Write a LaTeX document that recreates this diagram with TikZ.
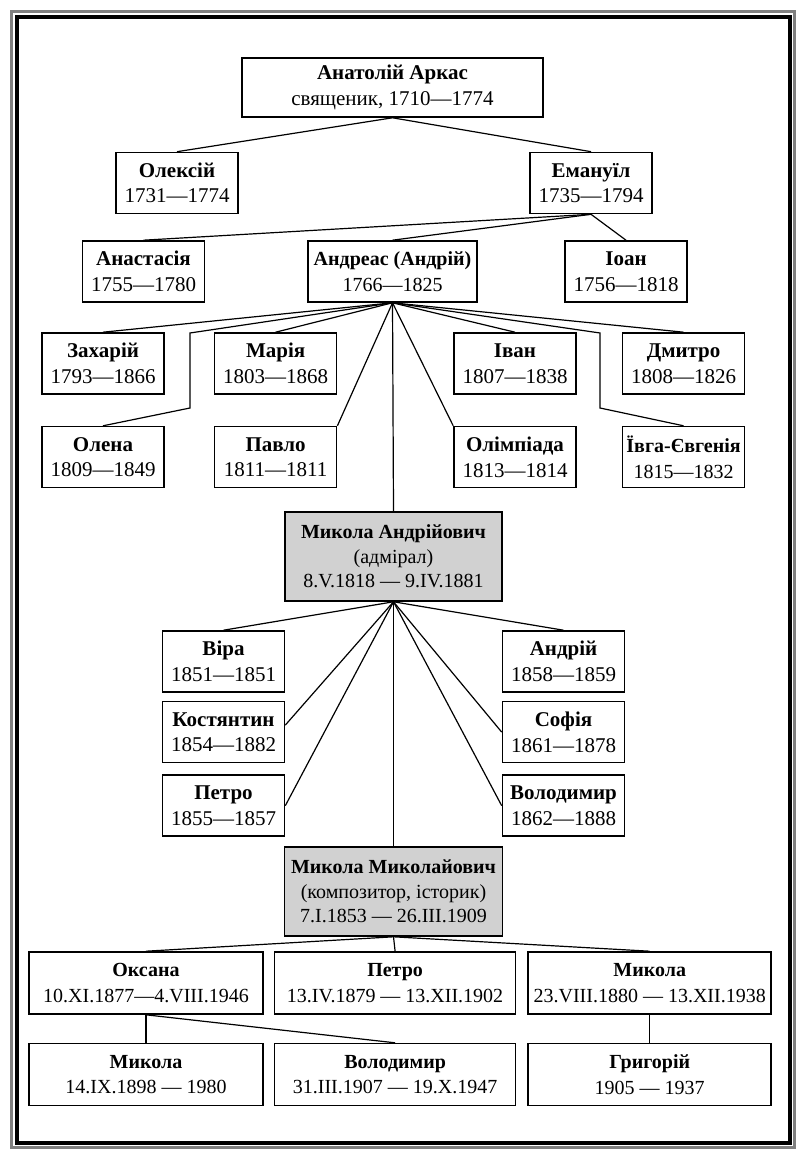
\documentclass[tikz,border=0pt]{standalone}
\usepackage{fontspec}
\setmainfont{Liberation Serif}
\usepackage{tikz}
\usetikzlibrary{positioning}

\begin{document}
\begin{tikzpicture}[
    x=0.5pt, y=-0.5pt,
    node distance=4pt and 5pt,
    person/.style={draw, line width=0.8pt, inner sep=0pt, minimum width=61pt, minimum height=30.5pt, align=center, font=\fontsize{10.5}{12.8}\selectfont},
    key/.style={person, fill=black!18, minimum width=108.5pt, minimum height=44.5pt, font=\fontsize{10}{12.3}\selectfont},
    wide/.style={person, minimum height=31pt, font=\fontsize{10}{12.8}\selectfont},
    link/.style={line width=0.6pt},
]
\useasboundingbox (0,0) rectangle (796,1149);

% frame
\draw[black!50, line width=1.5pt] (11,12) rectangle (794,1147);
\draw[line width=2pt] (17,17) rectangle (790,1143);

% Anatolii and sons
\node[person, minimum width=150.5pt, minimum height=29.5pt] (anatolii) at (392.5,87.5) {\textbf{Анатолій Аркас}\\священик, 1710—1774};
\node[person] (oleksii) at (177,183) {\textbf{Олексій}\\1731—1774};
\node[person] (emanuil) at (591,183) {\textbf{Емануїл}\\1735—1794};

\draw[link] (anatolii.south) -- (oleksii.north);
\draw[link] (anatolii.south) -- (emanuil.north);

% Emanuil's children
\node[person] (anastasiia) at (143.5,271.5) {\textbf{Анастасія}\\1755—1780};
\node[person, minimum width=84.5pt, font=\fontsize{10}{12.8}\selectfont] (andreas) at (392.5,271.5) {\textbf{Андреас (Андрій)}\\1766—1825};
\node[person] (ioan) at (626,271.5) {\textbf{Іоан}\\1756—1818};

\draw[link] (emanuil.south) -- (anastasiia.north);
\draw[link] (emanuil.south) -- (andreas.north);
\draw[link] (emanuil.south) -- (ioan.north);

% Andreas' children
\node[person] (zakharii) at (103,363.5) {\textbf{Захарій}\\1793—1866};
\node[person, right=24.5pt of zakharii] (mariia) {\textbf{Марія}\\1803—1868};
\node[person] (ivan) at (515,363.5) {\textbf{Іван}\\1807—1838};
\node[person, right=22.5pt of ivan] (dmytro) {\textbf{Дмитро}\\1808—1826};

\node[person, below=15.5pt of zakharii] (olena) {\textbf{Олена}\\1809—1849};
\node[person, below=15.5pt of mariia] (pavlo) {\textbf{Павло}\\1811—1811};
\node[person, below=15.5pt of ivan] (olimpiada) {\textbf{Олімпіада}\\1813—1814};
\node[person, below=15.5pt of dmytro, font=\fontsize{10}{12.8}\selectfont] (yevheniia) {\textbf{Ївга-Євгенія}\\1815—1832};

\coordinate (olenaA) at (190,333);
\coordinate (olenaB) at (190,408);
\coordinate (yevhA) at (600,333);
\coordinate (yevhB) at (600,408);

\draw[link] (andreas.south) -- (zakharii.north);
\draw[link] (andreas.south) -- (olenaA) -- (olenaB) -- (olena.north);
\draw[link] (andreas.south) -- (mariia.north);
\draw[link] (andreas.south) -- (pavlo.north east);
\draw[link] (andreas.south) -- (olimpiada.north west);
\draw[link] (andreas.south) -- (ivan.north);
\draw[link] (andreas.south) -- (yevhA) -- (yevhB) -- (yevheniia.north);
\draw[link] (andreas.south) -- (dmytro.north);

% the admiral
\node[key] (mykolaA) at (393.5,556.5) {\textbf{Микола Андрійович}\\(адмірал)\\8.V.1818 — 9.IV.1881};
\draw[link] (andreas.south) -- (mykolaA.north);

\node[person] (vira) at (223.5,661.5) {\textbf{Віра}\\1851—1851};
\node[person, below=of vira] (kostiantyn) {\textbf{Костянтин}\\1854—1882};
\node[person, below=5.5pt of kostiantyn] (petroA) {\textbf{Петро}\\1855—1857};
\node[person] (andrii) at (563.5,661.5) {\textbf{Андрій}\\1858—1859};
\node[person, below=of andrii] (sofiia) {\textbf{Софія}\\1861—1878};
\node[person, below=5.5pt of sofiia] (volodymyrA) {\textbf{Володимир}\\1862—1888};

\draw[link] (mykolaA.south) -- (vira.north);
\draw[link] (mykolaA.south) -- ([yshift=3.5pt]kostiantyn.east);
\draw[link] (mykolaA.south) -- (petroA.east);
\draw[link] (mykolaA.south) -- (andrii.north);
\draw[link] (mykolaA.south) -- (sofiia.west);
\draw[link] (mykolaA.south) -- (volodymyrA.west);

% the composer
\node[key, minimum width=109pt] (mykolaM) at (393.5,891.5) {\textbf{Микола Миколайович}\\(композитор, історик)\\7.I.1853 — 26.III.1909};
\draw[link] (mykolaA.south) -- (mykolaM.north);

\node[wide, minimum width=117pt] (oksana) at (146,983) {\textbf{Оксана}\\10.XI.1877—4.VIII.1946};
\node[wide, minimum width=120.5pt, right=of oksana] (petroM) {\textbf{Петро}\\13.IV.1879 — 13.XII.1902};
\node[wide, minimum width=121.5pt, right=5.5pt of petroM] (mykolaN) {\textbf{Микола}\\23.VIII.1880 — 13.XII.1938};

\draw[link] (mykolaM.south) -- (oksana.north);
\draw[link] (mykolaM.south) -- (petroM.north);
\draw[link] (mykolaM.south) -- (mykolaN.north);

% grandchildren
\node[wide, minimum width=117pt, below=14pt of oksana] (mykolaO) {\textbf{Микола}\\14.IX.1898 — 1980};
\node[wide, minimum width=120.5pt, below=14pt of petroM] (volodymyrO) {\textbf{Володимир}\\31.III.1907 — 19.X.1947};
\node[wide, minimum width=121.5pt, below=14pt of mykolaN] (hryhorii) {\textbf{Григорій}\\1905 — 1937};

\draw[link] (oksana.south) -- (mykolaO.north);
\draw[link] (oksana.south) -- (volodymyrO.north);
\draw[link] (mykolaN.south) -- (hryhorii.north);

\end{tikzpicture}
\end{document}
